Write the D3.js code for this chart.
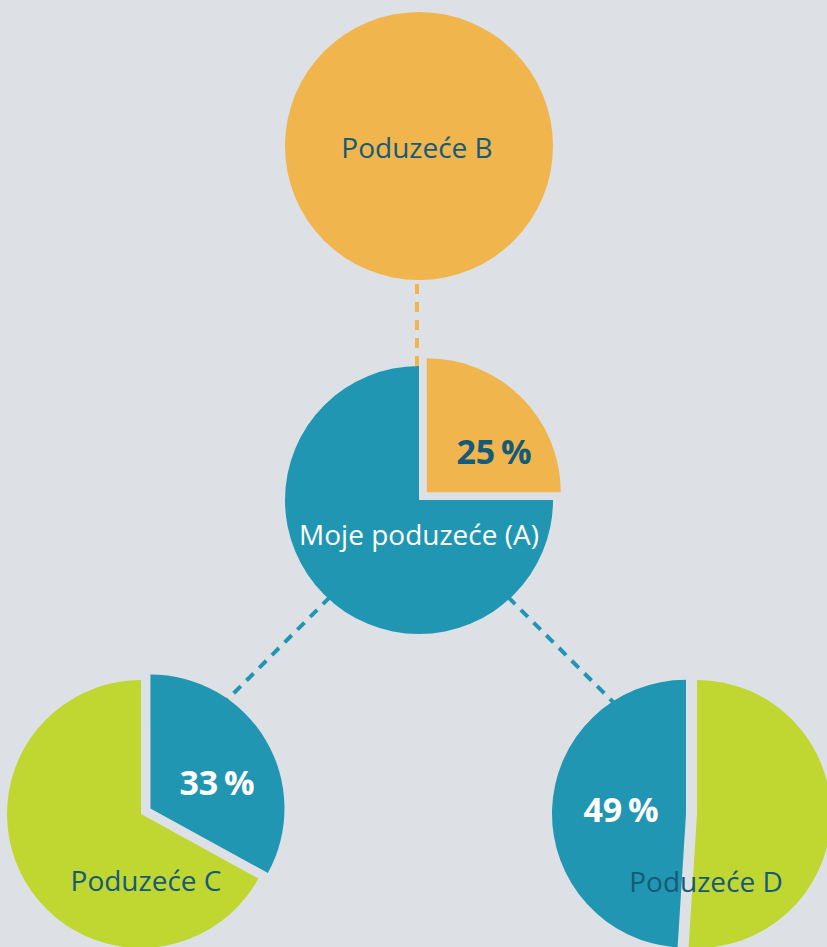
<!DOCTYPE html>
<html>
<head>
<meta charset="utf-8">
<script src="https://cdn.jsdelivr.net/npm/d3@7"></script>
<style>
  body { margin: 0; background: #dde1e6; }
</style>
</head>
<body>
<div id="container"></div>
<script>
let w = 827;
let h = 947;

// DATA
let companies = ["Moje poduzeće (A)", "Poduzeće B", "Poduzeće C", "Poduzeće D"];
let shareLabels = ["25 %", null, "33 %", "49 %"];
let shareValues = [25, null, 33, 49];
let links = [["Moje poduzeće (A)", "Poduzeće B"], ["Moje poduzeće (A)", "Poduzeće C"], ["Moje poduzeće (A)", "Poduzeće D"]];

// LAYOUT (grid units, mapped through scales)
let gridX = [2, 2, 0, 4];
let gridY = [1, 0, 2, 2];
let radius = 134;
let explode = 11;
// direction of each link out of A (degrees clockwise from top) and its length
let linkAngle = [0, 225, 135];
let linkLength = [220, 285, 285];

let colors = {
  orange: "#f0b54c",
  teal: "#2096b3",
  green: "#bfd730",
  dark: "#155a78"
};

let xScale = d3.scaleLinear().domain([0, 4]).range([141, 697]);
let yScale = d3.scaleLinear().domain([0, 1, 2]).range([146, 500, 814]);

let nodes = companies.map((name, i) => {
  return {name: name, x: xScale(gridX[i]), y: yScale(gridY[i]), share: shareValues[i], label: shareLabels[i]};
});
let byName = {};
nodes.forEach(n => byName[n.name] = n);

let viz = d3.select("#container").append("svg")
    .attr("width", w)
    .attr("height", h)
    .style("background-color", "#dde1e6")
    .style("display", "block");

// LINKS (dashed; they start under A and end under the partner's slice)
let linkData = links.map((d, i) => {
  let a = byName[d[0]];
  let ang = linkAngle[i] * Math.PI / 180;
  let ox = d[1] == "Poduzeće B" ? -2 : 0;
  let oy = d[1] == "Poduzeće B" ? -radius : 8;
  return {
    target: d[1],
    x1: a.x + ox, y1: a.y + oy,
    x2: a.x + ox + Math.sin(ang) * linkLength[i],
    y2: a.y + oy - Math.cos(ang) * linkLength[i]
  };
});

viz.selectAll(".link").data(linkData).enter()
  .append("line")
    .attr("class", "link")
    .attr("x1", d => d.x1)
    .attr("y1", d => d.y1)
    .attr("x2", d => d.x2)
    .attr("y2", d => d.y2)
    .attr("stroke", d => d.target == "Poduzeće B" ? colors.orange : colors.teal)
    .attr("stroke-width", 4)
    .attr("stroke-dasharray", d => d.target == "Poduzeće B" ? "10 8" : null)
    .attr("stroke-dashoffset", 0);

// teal links: dash pattern should start at the edge of A, so draw dashes from there
viz.selectAll(".link")
    .filter(d => d.target != "Poduzeće B")
    .attr("stroke-dasharray", "10 8")
    .attr("stroke-dashoffset", -(radius - 8));

let arc = d3.arc().innerRadius(0).outerRadius(radius);

// pie settings per company
let pieStyle = {
  "Moje poduzeće (A)": {shareColor: colors.orange, restColor: colors.teal, shareFirst: true},
  "Poduzeće C": {shareColor: colors.teal, restColor: colors.green, shareFirst: true},
  "Poduzeće D": {shareColor: colors.teal, restColor: colors.green, shareFirst: false}
};

nodes.forEach(n => {
  let g = viz.append("g").attr("transform", `translate(${n.x},${n.y})`);
  if (n.share == null) {
    g.append("circle").attr("r", radius).attr("fill", colors.orange);
    return;
  }
  let st = pieStyle[n.name];
  let parts = st.shareFirst
    ? [{v: n.share, share: true}, {v: 100 - n.share, share: false}]
    : [{v: 100 - n.share, share: false}, {v: n.share, share: true}];
  let pie = d3.pie().sort(null).value(d => d.v);
  g.selectAll("path").data(pie(parts)).enter()
    .append("path")
      .attr("d", arc)
      .attr("fill", d => d.data.share ? st.shareColor : st.restColor)
      .attr("transform", d => {
        if (!d.data.share) return null;
        let a = (d.startAngle + d.endAngle) / 2;
        return `translate(${Math.sin(a) * explode},${-Math.cos(a) * explode})`;
      });
});

// TEXT
let nameOffsets = {
  "Moje poduzeće (A)": [0, 45, "#ffffff"],
  "Poduzeće B": [-2, 12, colors.dark],
  "Poduzeće C": [5, 77, colors.dark],
  "Poduzeće D": [9, 78, colors.dark]
};
let shareOffsets = {
  "Moje poduzeće (A)": [75, -36, colors.dark],
  "Poduzeće C": [76, -19, "#ffffff"],
  "Poduzeće D": [-76, 8, "#ffffff"]
};

viz.selectAll(".name").data(nodes).enter()
  .append("text")
    .attr("class", "name")
    .attr("x", d => d.x + nameOffsets[d.name][0])
    .attr("y", d => d.y + nameOffsets[d.name][1])
    .attr("text-anchor", "middle")
    .attr("font-family", "'Open Sans', sans-serif")
    .attr("font-size", 28)
    .attr("fill", d => nameOffsets[d.name][2])
    .text(d => d.name);

viz.selectAll(".share").data(nodes.filter(d => d.label != null)).enter()
  .append("text")
    .attr("class", "share")
    .attr("x", d => d.x + shareOffsets[d.name][0])
    .attr("y", d => d.y + shareOffsets[d.name][1])
    .attr("text-anchor", "middle")
    .attr("font-family", "'Open Sans', sans-serif")
    .attr("font-weight", "bold")
    .attr("font-size", 34)
    .attr("fill", d => shareOffsets[d.name][2])
    .text(d => d.label.replace(" ", "\u2009"));
</script>
</body>
</html>
